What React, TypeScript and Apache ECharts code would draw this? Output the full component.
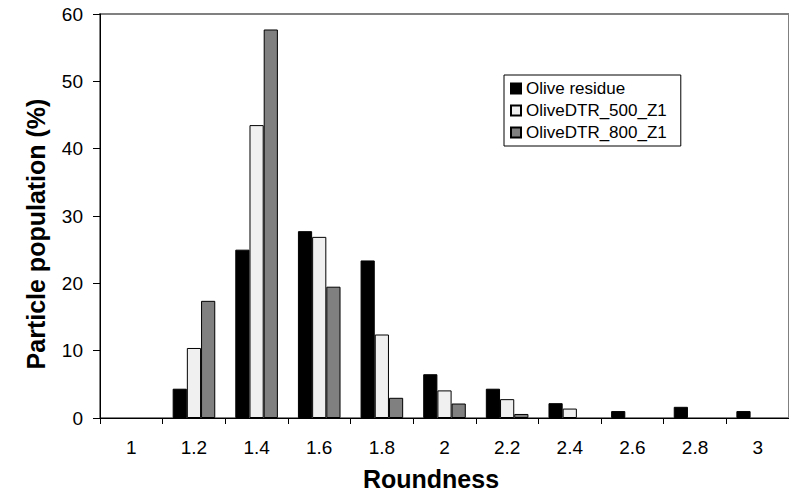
import React, { useEffect, useRef } from "react";
import * as echarts from "echarts";

const categories = ["1", "1.2", "1.4", "1.6", "1.8", "2", "2.2", "2.4", "2.6", "2.8", "3"];
const oliveResidue = [0, 4.35, 25, 27.75, 23.4, 6.5, 4.35, 2.2, 1.03, 1.66, 1.03];
const olive500 = [0, 10.4, 43.5, 26.9, 12.4, 4.1, 2.8, 1.4, 0, 0, 0];
const olive800 = [0, 17.4, 57.7, 19.5, 3.0, 2.15, 0.6, 0, 0, 0, 0];
const seriesNames = ["Olive residue", "OliveDTR_500_Z1", "OliveDTR_800_Z1"];

const FONT = "'Liberation Sans', Arial, sans-serif";

export default function App() {
  const ref = useRef<HTMLDivElement>(null);
  useEffect(() => {
    if (!ref.current) return;
    const chart = echarts.init(ref.current, undefined, { renderer: "svg" });
    const mk = (name: string, data: number[], color: string) => ({
      name,
      type: "bar",
      data: data.map((v) => (v === 0 ? null : v)),
      barGap: "0%",
      barCategoryGap: "32%",
      itemStyle: { color, borderColor: "#000", borderWidth: 1 },
    });
    chart.setOption({
      animation: false,
      textStyle: { fontFamily: FONT },
      grid: {
        left: 100,
        top: 14,
        width: 694,
        height: 408,
        show: true,
        borderColor: "#808080",
        borderWidth: 2,
        backgroundColor: "transparent",
      },
      legend: {
        orient: "vertical",
        left: 504,
        top: 75,
        itemWidth: 10,
        itemHeight: 10,
        itemGap: 5,
        padding: [5, 14, 5, 6],
        borderColor: "#000",
        borderWidth: 1,
        backgroundColor: "#fff",
        icon: "rect",
        textStyle: { fontSize: 17, color: "#000", fontFamily: FONT },
        data: seriesNames,
      },
      xAxis: {
        type: "category",
        data: categories,
        name: "Roundness",
        nameLocation: "middle",
        nameGap: 48,
        nameTextStyle: {
          fontSize: 25,
          fontWeight: "bold",
          color: "#000",
          fontFamily: FONT,
          padding: [0, 27, 0, 0],
        },
        axisLine: { lineStyle: { color: "#000", width: 1 } },
        axisTick: { show: true, alignWithLabel: false, length: 6, lineStyle: { color: "#000" } },
        axisLabel: { fontSize: 19, color: "#000", margin: 20, fontFamily: FONT },
        splitLine: { show: false },
      },
      yAxis: {
        type: "value",
        min: 0,
        max: 60,
        interval: 10,
        name: "Particle population (%)",
        nameLocation: "middle",
        nameGap: 52,
        nameTextStyle: {
          fontSize: 25,
          fontWeight: "bold",
          color: "#000",
          fontFamily: FONT,
          padding: [0, 36, 0, 0],
        },
        axisLine: { show: true, lineStyle: { color: "#000", width: 1 } },
        axisTick: { show: true, length: 7, lineStyle: { color: "#000" } },
        axisLabel: { fontSize: 19, color: "#000", margin: 17, fontFamily: FONT },
        splitLine: { show: false },
      },
      series: [
        mk(seriesNames[0], oliveResidue, "#000000"),
        mk(seriesNames[1], olive500, "#f0f0f0"),
        mk(seriesNames[2], olive800, "#808080"),
      ],
    });
    return () => chart.dispose();
  }, []);
  return <div ref={ref} style={{ width: 789, height: 496, position: "absolute", left: 0, top: 0 }} />;
}
